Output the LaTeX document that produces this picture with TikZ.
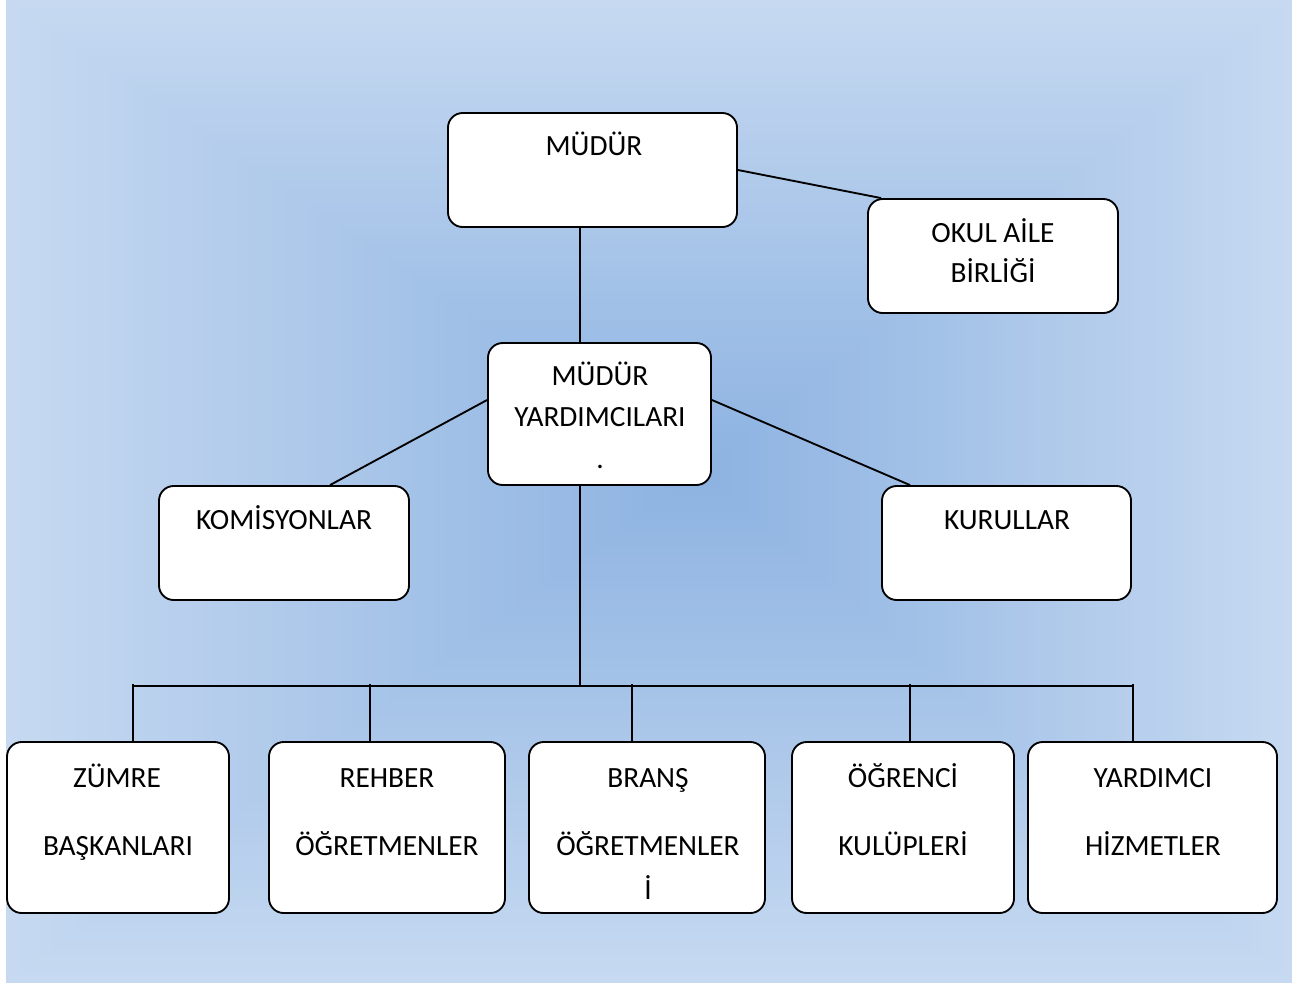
\documentclass[tikz,border=0pt]{standalone}
\usepackage{fontspec}
\setmainfont{Carlito}
\usetikzlibrary{calc}
\definecolor{bgedge}{HTML}{C6D9F1}
\definecolor{bgcenter}{HTML}{8CB2E1}
\begin{document}
\begin{tikzpicture}[x=0.75pt,y=-0.75pt,
  box/.style={draw=black, line width=1.4pt, fill=white, rounded corners=11pt, inner sep=0pt},
  txt/.style={anchor=base, inner sep=0pt, font=\fontsize{22}{26}\selectfont},
  conn/.style={draw=black, line width=1.4pt}]
\useasboundingbox (0,0) rectangle (1307,983);
% background rectangular gradient
\foreach \i in {0,...,60} {
  \pgfmathsetmacro\f{100-\i*100/60}
  \pgfmathsetmacro\t{\i/60}
  \fill[bgedge!\f!bgcenter] (6+\t*694, \t*470) rectangle (1292-\t*592, 983-\t*513);
}
% boxes
\node[box, minimum width=216.75pt, minimum height=85.5pt] (mudur) at (592.5,170) {};
\node[box, minimum width=187.5pt, minimum height=85.5pt] (okul) at (993,256) {};
\node[box, minimum width=167.25pt, minimum height=106.5pt] (my) at (599.5,414) {};
\node[box, minimum width=187.5pt, minimum height=85.5pt] (kom) at (284,543) {};
\node[box, minimum width=186.75pt, minimum height=85.5pt] (kur) at (1006.5,543) {};
\node[box, minimum width=166.5pt, minimum height=128.25pt] (zumre) at (118,827.5) {};
\node[box, minimum width=177pt, minimum height=128.25pt] (rehber) at (387,827.5) {};
\node[box, minimum width=177pt, minimum height=128.25pt] (brans) at (647,827.5) {};
\node[box, minimum width=166.5pt, minimum height=128.25pt] (ogr) at (903,827.5) {};
\node[box, minimum width=186.75pt, minimum height=128.25pt] (yard) at (1152.5,827.5) {};
% texts
\node[txt] (t1) at (594,155) {MÜDÜR};
\node[txt] (t2) at (993,242) {OKUL AİLE};
\node[txt] (t3) at (993,282) {BİRLİĞİ};
\node[txt] (t4) at (600,385) {MÜDÜR};
\node[txt] (t5) at (600,426) {YARDIMCILARI};
\node[txt] (t6) at (600,468) {.};
\node[txt] (t7) at (284,529) {KOMİSYONLAR};
\node[txt] (t8) at (1007,529) {KURULLAR};
\node[txt] (t9) at (117,787) {ZÜMRE};
\node[txt] (t10) at (118,855) {BAŞKANLARI};
\node[txt] (t11) at (387,787) {REHBER};
\node[txt] (t12) at (387,855) {ÖĞRETMENLER};
\node[txt] (t13) at (648,787) {BRANŞ};
\node[txt] (t14) at (648,855) {ÖĞRETMENLER};
\node[txt] (t15) at (648,899) {İ};
\node[txt] (t16) at (903,787) {ÖĞRENCİ};
\node[txt] (t17) at (903,855) {KULÜPLERİ};
\node[txt] (t18) at (1153,787) {YARDIMCI};
\node[txt] (t19) at (1153,855) {HİZMETLER};
% connector coordinates
\coordinate (vx) at (580,0);
\coordinate (bus) at (580,686);
\coordinate (b1) at (133,686);
\coordinate (b2) at (370,686);
\coordinate (b3) at (632,686);
\coordinate (b4) at (910,686);
\coordinate (b5) at (1133,686);
% connectors
\draw[conn] (mudur.south -| vx) -- (my.north -| vx);
\draw[conn] (mudur.east) -- ($(okul.north west)+(14,0)$);
\draw[conn] ($(my.west)+(0,-14)$) -- ($(kom.north)+(46,0)$);
\draw[conn] ($(my.east)+(0,-14)$) -- ($(kur.north)+(-96.5,0)$);
\draw[conn] (my.south -| vx) -- (bus);
\draw[conn] (b1) -- (b5);
\draw[conn] ($(b1)+(0,-2)$) -- (zumre.north -| b1);
\draw[conn] ($(b2)+(0,-2)$) -- (rehber.north -| b2);
\draw[conn] ($(b3)+(0,-2)$) -- (brans.north -| b3);
\draw[conn] ($(b4)+(0,-2)$) -- (ogr.north -| b4);
\draw[conn] ($(b5)+(0,-2)$) -- (yard.north -| b5);
\end{tikzpicture}
\end{document}
